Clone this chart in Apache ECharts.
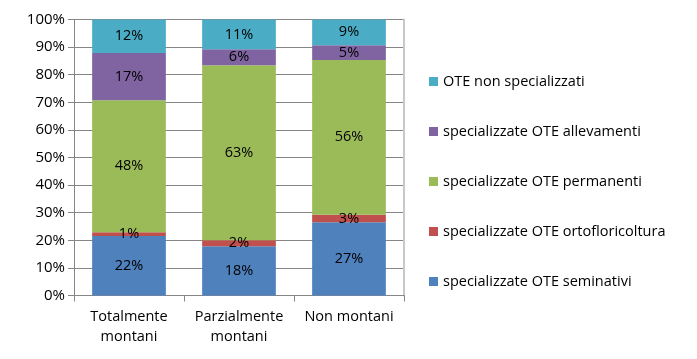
<!DOCTYPE html>
<html>
<head>
<meta charset="utf-8">
<script src="https://cdn.jsdelivr.net/npm/echarts@6/dist/echarts.min.js"></script>
<style>html,body{margin:0;padding:0;background:#fff;}#c{width:697px;height:359px;}</style>
</head>
<body>
<div id="c"></div>
<script>
var categories = ['Totalmente\nmontani', 'Parzialmente\nmontani', 'Non montani'];
var seminativi = [21.6, 17.8, 26.5];
var ortofloricoltura = [1.3, 2.2, 2.8];
var permanenti = [47.8, 63.4, 56.0];
var allevamenti = [17.2, 5.8, 5.4];
var nonSpecializzati = [12.1, 10.8, 9.3];
var seriesNames = ['specializzate OTE seminativi', 'specializzate OTE ortofloricoltura', 'specializzate OTE permanenti', 'specializzate OTE allevamenti', 'OTE non specializzati'];
var legendOrder = ['OTE non specializzati', 'specializzate OTE allevamenti', 'specializzate OTE permanenti', 'specializzate OTE ortofloricoltura', 'specializzate OTE seminativi'];
var colors = ['#4F81BD', '#C0504D', '#9BBB59', '#8064A2', '#4BACC6'];
var yTicks = [0, 10, 20, 30, 40, 50, 60, 70, 80, 90, 100];

var FONT = "'Open Sans', sans-serif";
var FS = 14.5;
var dataArr = [seminativi, ortofloricoltura, permanenti, allevamenti, nonSpecializzati];
var chart = echarts.init(document.getElementById('c'), null, {renderer: 'canvas'});
var series = dataArr.map(function (d, i) {
  return {
    name: seriesNames[i],
    type: 'bar',
    stack: 'total',
    data: d,
    barCategoryGap: '33%',
    itemStyle: {color: colors[i]},
    label: {
      show: true,
      position: 'inside',
      color: '#000',
      fontFamily: FONT,
      fontSize: FS,
      formatter: function (p) { return Math.round(p.value) + '%'; }
    }
  };
});
chart.setOption({
  animation: false,
  color: colors,
  textStyle: {fontFamily: FONT},
  grid: {left: 74, right: 293, top: 19.5, bottom: 63.5, containLabel: false},
  legend: {
    orient: 'vertical',
    left: 424,
    top: 68,
    itemWidth: 9,
    itemHeight: 9,
    itemGap: 33,
    icon: 'rect',
    data: legendOrder,
    textStyle: {fontFamily: FONT, fontSize: FS, color: '#000', lineHeight: 17},
    selectedMode: false
  },
  xAxis: {
    type: 'category',
    data: categories,
    axisLine: {lineStyle: {color: '#868686', width: 1}},
    axisTick: {show: true, length: 6, lineStyle: {color: '#868686'}},
    axisLabel: {color: '#000', fontFamily: FONT, fontSize: FS, lineHeight: 20, margin: 11, interval: 0, hideOverlap: false}
  },
  yAxis: [{
    type: 'value',
    min: yTicks[0],
    max: yTicks[yTicks.length - 1],
    interval: 10,
    axisLine: {show: true, lineStyle: {color: '#868686'}},
    axisTick: {show: true, length: 6, lineStyle: {color: '#868686'}},
    splitLine: {lineStyle: {color: '#868686'}},
    axisLabel: {color: '#000', fontFamily: FONT, fontSize: 15, margin: 9, formatter: '{value}%'}
  }, {
    type: 'value',
    position: 'right',
    min: 0, max: 100, interval: 10,
    axisLine: {show: true, lineStyle: {color: '#c8c8c8', width: 2}},
    axisTick: {show: false},
    axisLabel: {show: false},
    splitLine: {show: false}
  }],
  series: series
});
</script>
</body>
</html>
